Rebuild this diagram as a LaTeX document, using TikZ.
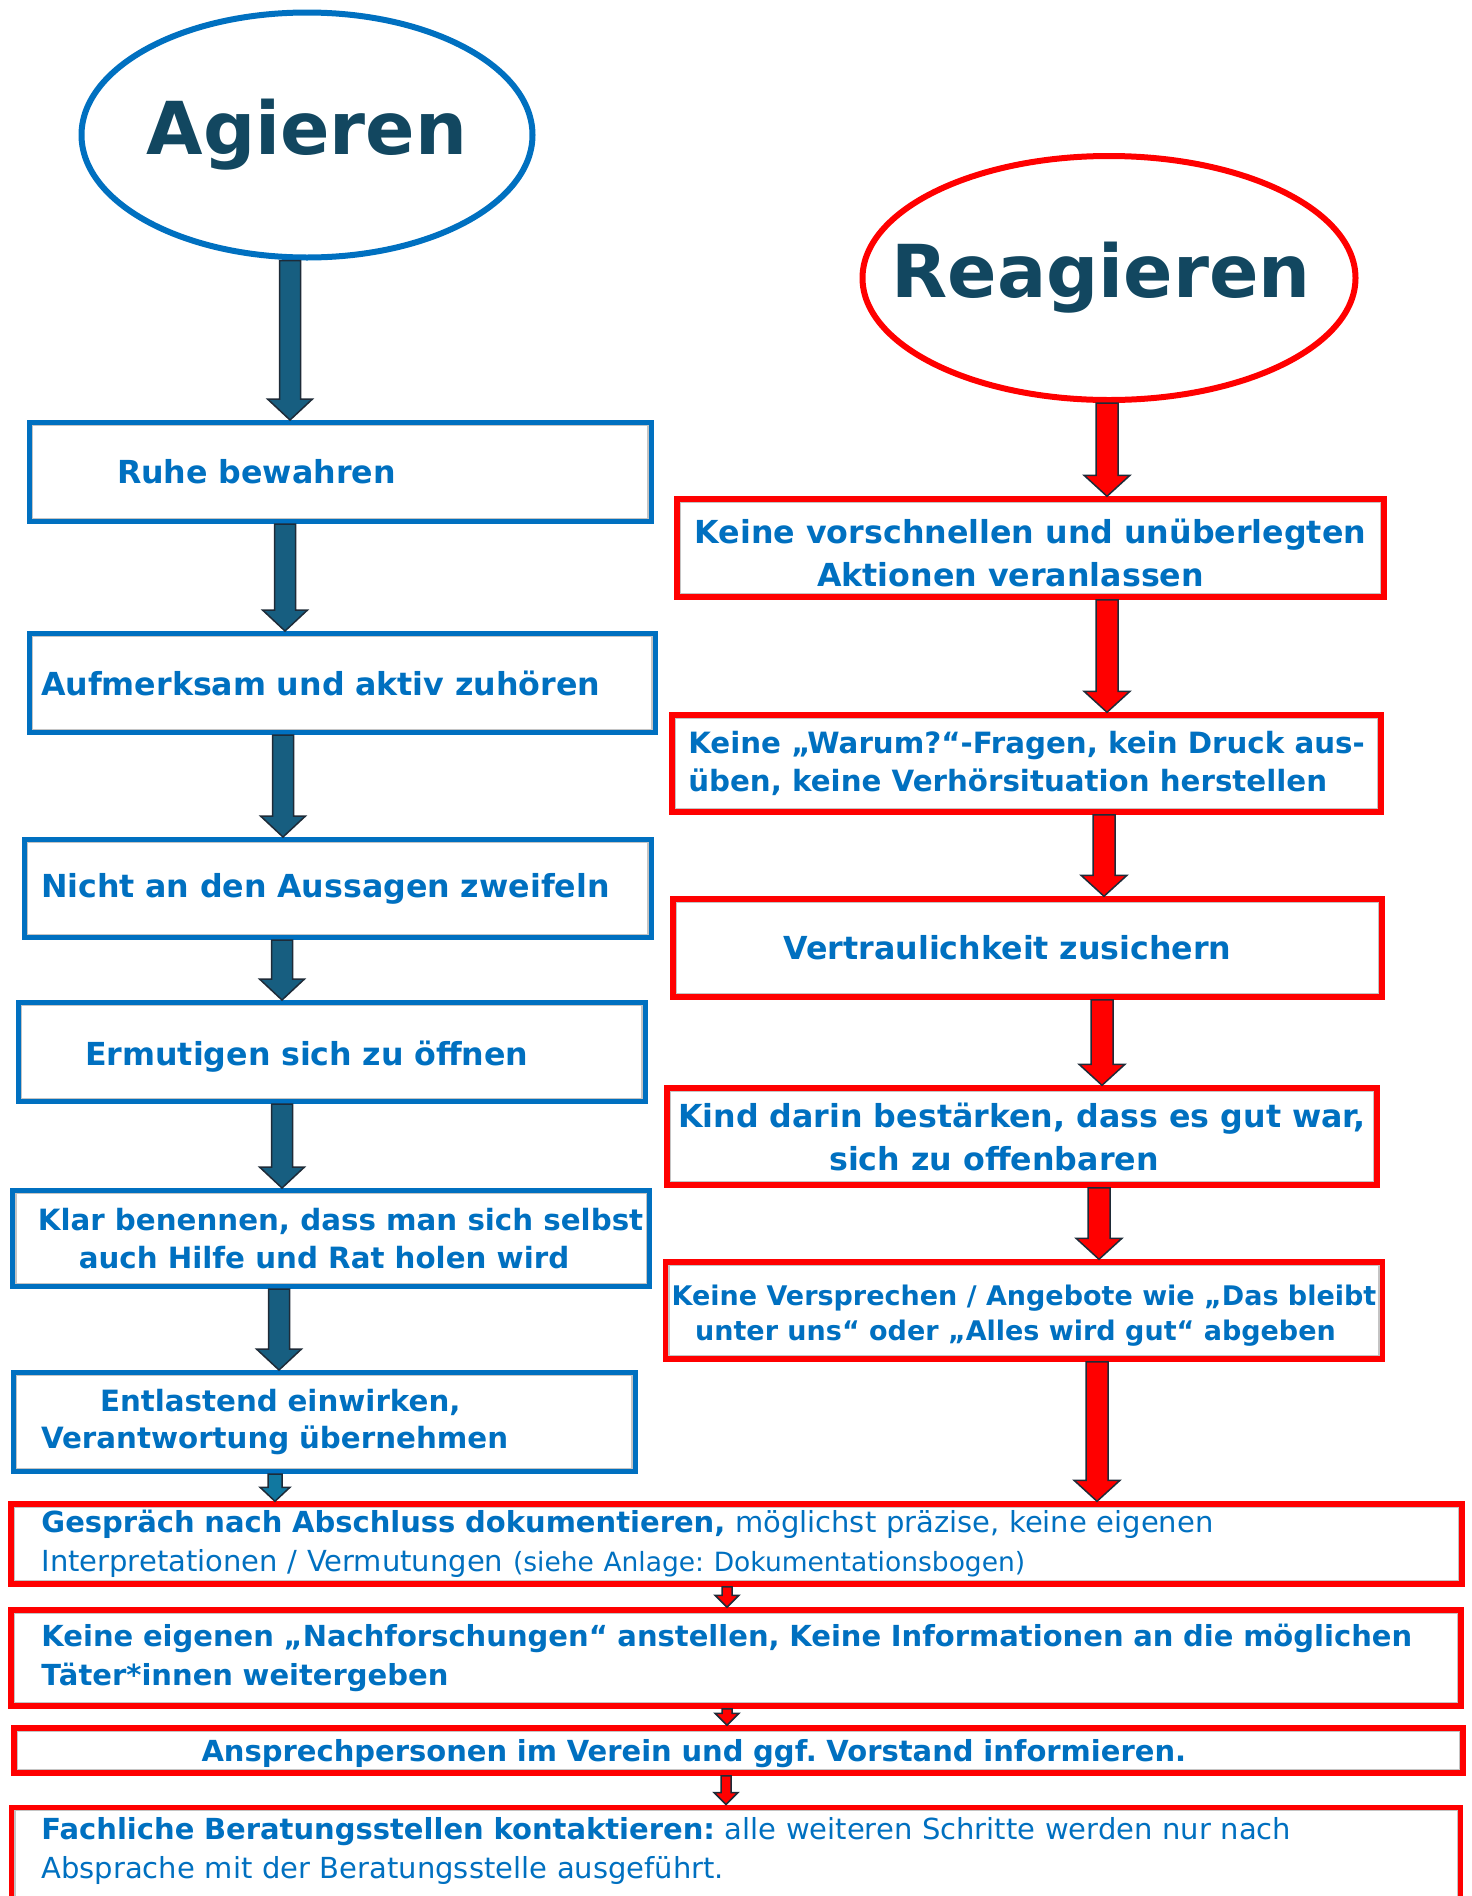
\documentclass[tikz,border=0pt]{standalone}
\usepackage{fontspec}
\setmainfont{DejaVu Sans}
\usetikzlibrary{calc,shapes.geometric}
\definecolor{tblue}{HTML}{0070C0}
\definecolor{tred}{HTML}{FF0000}
\definecolor{ttitle}{HTML}{124760}
\definecolor{afill}{HTML}{175E80}
\definecolor{afilltwo}{HTML}{1178A0}
\definecolor{aline}{HTML}{1E2B38}
\definecolor{boxgray}{HTML}{C4C4C4}
\frenchspacing
\newcommand\barrow[7]{%
  \coordinate (tmpx) at (#1,0);
  \path[draw=aline,line width=1.5pt,line join=miter,fill=#7]
    let \p1=(#2.south -| tmpx), \p2=(#3.north -| tmpx) in
    (\x1-#4pt,\y1) -- (\x1+#4pt,\y1) -- (\x1+#4pt,\y2+#6pt) -- (\x1+#5pt,\y2+#6pt)
    -- (\x1,\y2) -- (\x1-#5pt,\y2+#6pt) -- (\x1-#4pt,\y2+#6pt) -- cycle;}
\begin{document}
\begin{tikzpicture}[x=1pt,y=-1pt,
  box/.style={rectangle, text=tblue, inner xsep=6pt, inner ysep=3pt,
    path picture={\draw[boxgray,line width=#1] (path picture bounding box.south west) rectangle (path picture bounding box.north east);}},
  bluebox/.style={box=7.4pt, draw=tblue, line width=5pt},
  redbox/.style={box=8pt, draw=tred, line width=5.5pt},
  mainf/.style={font=\bfseries\fontsize{31.7}{38}\selectfont},
  smallf/.style={font=\bfseries\fontsize{29.3}{38}\selectfont},
  botf/.style={font=\fontsize{29}{39}\selectfont},
  botbf/.style={font=\bfseries\fontsize{29}{39}\selectfont},
  title/.style={ellipse, line width=6pt, inner sep=0pt, text=ttitle,
    font=\bfseries\fontsize{73}{80}\selectfont}]
\useasboundingbox (0,0) rectangle (1472,1896);
% titles
\node[title, draw=tblue, minimum width=451, minimum height=245] (E1) at (307,135) {\makebox[0pt]{Agieren}};
\node[title, draw=tred, minimum width=493, minimum height=244] (E2) at (1109,278) {\makebox[0pt]{Reagieren\hspace*{16pt}}};
% left column
\node[bluebox, mainf, minimum width=621, minimum height=99, text width=446, inner xsep=88pt, align=left] (L1) at (340,472) {Ruhe bewahren};
\node[bluebox, mainf, minimum width=625, minimum height=99, text width=602, inner xsep=12pt, align=left] (L2) at (342,683) {Aufmerksam und aktiv zuhören};
\node[bluebox, mainf, minimum width=626, minimum height=98, text width=593, inner xsep=17pt, align=left] (L3) at (337.5,888.5) {Nicht an den Aussagen zweifeln};
\node[bluebox, mainf, minimum width=626, minimum height=99, text width=493, inner xsep=67pt, align=left] (L4) at (331.5,1052) {\rule{0pt}{33pt}Ermutigen sich zu öffnen};
\node[bluebox, smallf, minimum width=627, minimum height=96, align=center] (L5) at (331,1238.5) {\hspace*{19pt}Klar benennen, dass man sich selbst\\\hspace*{-14pt}auch Hilfe und Rat holen wird};
\node[bluebox, font=\bfseries\fontsize{29.3}{37}\selectfont, minimum width=621, minimum height=99, text width=566, inner xsep=28pt, align=left] (L6) at (324,1422) {\hspace*{59pt}Entlastend einwirken,\\Verantwortung übernehmen};
% right column
\node[redbox, font=\bfseries\fontsize{31.7}{43}\selectfont, minimum width=707, minimum height=98, align=center] (R1) at (1030.5,548) {\rule{0pt}{35pt}Keine vorschnellen und unüberlegten\\\hspace*{-40pt}Aktionen veranlassen};
\node[redbox, smallf, minimum width=709, minimum height=97, align=left] (R2) at (1026.5,763.5) {Keine „Warum?“-Fragen, kein Druck aus-\\üben, keine Verhörsituation herstellen};
\node[redbox, mainf, minimum width=709, minimum height=98, text width=488, inner xsep=110pt, align=left] (R3) at (1027.5,948) {Vertraulichkeit zusichern};
\node[redbox, font=\bfseries\fontsize{31.7}{43}\selectfont, minimum width=710, minimum height=97, align=center] (R4) at (1022,1136.5) {Kind darin bestärken, dass es gut war,\\\hspace*{-56pt}sich zu offenbaren};
\node[redbox, font=\bfseries\fontsize{27}{35}\selectfont, minimum width=710, minimum height=97, align=center] (R5) at (1024,1310.5) {\rule{0pt}{30pt}Keine Versprechen / Angebote wie „Das bleibt\\\hspace*{-17pt}unter uns“ oder „Alles wird gut“ abgeben};
% bottom
\node[redbox, botf, minimum width=1451, minimum height=80, text width=1390, inner xsep=30pt, align=left] (B1) at (736.5,1544) {\mbox{\bfseries Gespräch nach Abschluss dokumentieren,} möglichst präzise, keine eigenen\\Interpretationen / Vermutungen {\fontsize{26.5}{39}\selectfont(siehe Anlage: Dokumentationsbogen)}};
\node[redbox, botbf, minimum width=1450, minimum height=96, text width=1389, inner xsep=30pt, align=left] (B2) at (736,1658) {\mbox{Keine eigenen „Nachforschungen“ anstellen, Keine Informationen an die möglichen}\\Täter*innen weitergeben};
\node[redbox, botbf, minimum width=1449, minimum height=45, text width=1074, inner xsep=187pt, inner ysep=1pt, align=left] (B3) at (738.5,1750.5) {\rule{0pt}{28pt}Ansprechpersonen im Verein und ggf. Vorstand informieren.};
\node[redbox, botf, anchor=north, text width=1389, inner xsep=30pt, inner ysep=10pt, text depth=100pt, align=left] (B4) at (736,1804.5) {{\bfseries Fachliche Beratungsstellen kontaktieren:} alle weiteren Schritte werden nur nach\\Absprache mit der Beratungsstelle ausgeführt.};
% arrows left
\barrow{290}{E1}{L1}{10.5}{22.5}{21}{afill}
\barrow{285}{L1}{L2}{10.5}{22.5}{21}{afill}
\barrow{283}{L2}{L3}{10.5}{22.5}{21}{afill}
\barrow{282}{L3}{L4}{10.5}{22.5}{21}{afill}
\barrow{282}{L4}{L5}{10.5}{22.5}{21}{afill}
\barrow{279}{L5}{L6}{10.5}{22.5}{21}{afill}
\barrow{275}{L6}{B1}{7}{15}{14}{afilltwo}
% arrows right
\barrow{1107}{E2}{R1}{11}{23}{21}{tred}
\barrow{1107}{R1}{R2}{11}{23}{21}{tred}
\barrow{1104}{R2}{R3}{11}{23}{21}{tred}
\barrow{1102}{R3}{R4}{11}{23}{21}{tred}
\barrow{1099}{R4}{R5}{11}{23}{21}{tred}
\barrow{1097}{R5}{B1}{11}{23}{21}{tred}
% small arrows bottom
\barrow{727}{B1}{B2}{5}{12}{12}{tred}
\barrow{727}{B2}{B3}{5}{12}{12}{tred}
\barrow{726}{B3}{B4}{5}{12}{12}{tred}
\end{tikzpicture}
\end{document}
